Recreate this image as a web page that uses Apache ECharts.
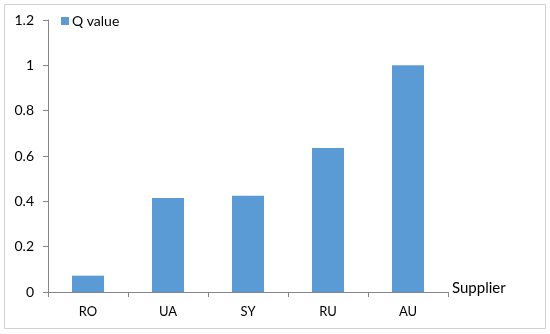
<!DOCTYPE html>
<html>
<head>
<meta charset="utf-8">
<script src="https://cdn.jsdelivr.net/npm/echarts@6/dist/echarts.min.js"></script>
<style>
  html, body { margin: 0; padding: 0; background: #fff; }
  #main { width: 550px; height: 334px; }
</style>
</head>
<body>
<div id="main"></div>
<script>
// Q value per supplier
var suppliers = ['RO', 'UA', 'SY', 'RU', 'AU'];
var qValues = [0.072, 0.415, 0.425, 0.635, 1.0];

var myChart = echarts.init(document.getElementById('main'));
var option = {
    animation: false,
    textStyle: { fontFamily: 'Lato' },
    graphic: [{
        type: 'rect',
        shape: { x: 4.5, y: 4.5, width: 541, height: 324 },
        style: { fill: 'none', stroke: '#d0d0d0', lineWidth: 1 }
    }],
    legend: {
        left: 56,
        top: 9,
        icon: 'rect',
        itemWidth: 8,
        itemHeight: 8,
        itemGap: 4,
        textStyle: { fontSize: 14, color: '#000', fontFamily: 'Lato', padding: [0, 0, 0, -2] },
        data: ['Q value']
    },
    grid: { left: 48, right: 102, top: 20, bottom: 42 },
    xAxis: {
        type: 'category',
        data: suppliers,
        name: 'Supplier',
        nameLocation: 'end',
        nameGap: 4,
        nameTextStyle: { fontSize: 15, color: '#000', align: 'left', verticalAlign: 'bottom', padding: [0, 0, -4, 0] },
        axisLine: { lineStyle: { color: '#868686' } },
        axisTick: { show: true, length: 5, alignWithLabel: false, lineStyle: { color: '#868686' } },
        axisLabel: { color: '#000', fontSize: 13, margin: 13 }
    },
    yAxis: {
        type: 'value',
        min: 0,
        max: 1.2,
        interval: 0.2,
        splitLine: { show: false },
        axisLine: { show: true, lineStyle: { color: '#868686' } },
        axisTick: { show: true, length: 5, lineStyle: { color: '#868686' } },
        axisLabel: {
            color: '#000',
            fontSize: 14,
            margin: 14,
            formatter: function (v) { return String(Math.round(v * 10) / 10); }
        }
    },
    series: [{
        name: 'Q value',
        type: 'bar',
        data: qValues,
        barWidth: 32,
        itemStyle: { color: '#5b9bd5' }
    }]
};
myChart.setOption(option);
</script>
</body>
</html>
